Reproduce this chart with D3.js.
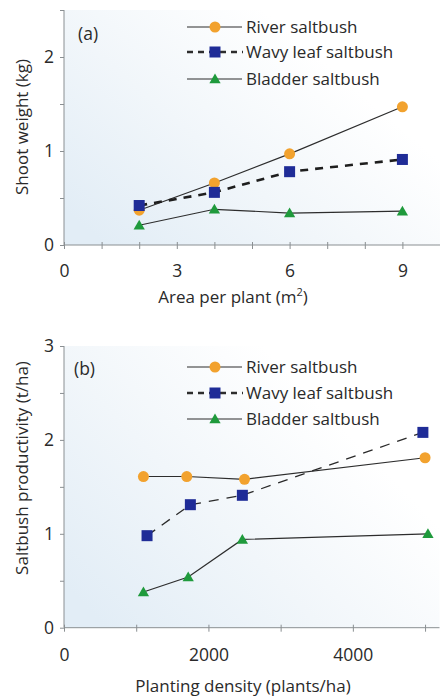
<!DOCTYPE html>
<html><head><meta charset="utf-8">
<script src="https://cdn.jsdelivr.net/npm/d3@7"></script>
<style>body{margin:0;background:#fff}svg{display:block}text{font-family:"Open Sans",sans-serif;fill:#2a2a2a}</style>
</head><body><svg id="c" width="440" height="697"></svg>
<script>
// Panel (a): shoot weight vs area per plant
const seriesNames = ["River saltbush", "Wavy leaf saltbush", "Bladder saltbush"];
const areaX = [2, 4, 6, 9];
const riverA = [0.37, 0.66, 0.97, 1.47];
const wavyA = [0.42, 0.56, 0.78, 0.91];
const bladderA = [0.21, 0.38, 0.34, 0.36];
const xTicksA = [0, 3, 6, 9];
const yTicksA = [0, 1, 2];
// Panel (b): productivity vs planting density
const riverBX = [1100, 1700, 2500, 5000];
const riverB = [1.61, 1.61, 1.58, 1.81];
const wavyBX = [1150, 1750, 2470, 4970];
const wavyB = [0.98, 1.31, 1.41, 2.08];
const bladderBX = [1100, 1720, 2470, 5040];
const bladderB = [0.38, 0.54, 0.94, 1.0];
const xTicksB = [0, 2000, 4000];
const yTicksB = [0, 1, 2, 3];

const svg = d3.select("#c");
const defs = svg.append("defs");
const colors = {orange: "#f2a22e", blue: "#1f2c97", green: "#1f9a3c", line: "#2d2d2d", axis: "#8a8f92"};

function gradient(id) {
  const g = defs.append("linearGradient").attr("id", id)
    .attr("x1", "0").attr("y1", "0.85").attr("x2", "0.75").attr("y2", "0.3");
  g.append("stop").attr("offset", "0").attr("stop-color", "#e2edf6");
  g.append("stop").attr("offset", "0.5").attr("stop-color", "#f1f6fa");
  g.append("stop").attr("offset", "1").attr("stop-color", "#ffffff");
}
gradient("bgA"); gradient("bgB");

function marker(g, type, x, y) {
  if (type === "circle") g.append("circle").attr("cx", x).attr("cy", y).attr("r", 5.5).attr("fill", colors.orange);
  else if (type === "square") g.append("rect").attr("x", x - 5.5).attr("y", y - 5.5).attr("width", 11).attr("height", 11).attr("fill", colors.blue);
  else g.append("path").attr("d", d3.symbol(d3.symbolTriangle, 55)()).attr("transform", `translate(${x},${y+1})`).attr("fill", colors.green);
}

function panel(opts) {
  const {x, y, bg, xTicks, yTicks, xMinor, yMinor, series, label, labelPos, xTitle, xTitlePos, yTitle, yTitlePos, legendRowsY, xLabY} = opts;
  const g = svg.append("g");
  g.append("rect").attr("x", x.range()[0]).attr("y", y.range()[1])
    .attr("width", x.range()[1] - x.range()[0]).attr("height", y.range()[0] - y.range()[1]).attr("fill", `url(#${bg})`);
  // y axis
  const yAx = g.append("g").attr("transform", `translate(${x.range()[0]},0)`)
    .call(d3.axisLeft(y).tickValues(yMinor).tickSize(4).tickFormat(d => yTicks.includes(d) ? d : ""));
  yAx.select(".domain").attr("stroke", colors.axis).attr("d", `M0,${y.range()[0]}V${y.range()[1]}`);
  yAx.selectAll(".tick line").attr("stroke", colors.axis);
  yAx.selectAll(".tick text").attr("font-size", 17.5).attr("x", -10).attr("fill", "#2a2a2a");
  // x axis
  const xAx = g.append("g").attr("transform", `translate(0,${y.range()[0]})`)
    .call(d3.axisBottom(x).tickValues(xMinor).tickSize(0).tickFormat(d => xTicks.includes(d) ? d : ""));
  xAx.select(".domain").attr("stroke", colors.axis).attr("d", `M${x.range()[0]},0H${x.range()[1]}`);
  xAx.selectAll(".tick line").attr("stroke", colors.axis).attr("y1", -3).attr("y2", 4);
  xAx.selectAll(".tick text").attr("font-size", 17.5).attr("y", xLabY).attr("dy", 0).attr("fill", "#2a2a2a");
  xAx.selectAll("text").style("font-family", '"Open Sans",sans-serif');
  yAx.selectAll("text").style("font-family", '"Open Sans",sans-serif');
  // series
  series.forEach(s => {
    const line = d3.line().x((d, i) => x(s.xs[i])).y(d => y(d));
    g.append("path").datum(s.ys).attr("d", line).attr("fill", "none")
      .attr("stroke", s.stroke).attr("stroke-width", s.width).attr("stroke-dasharray", s.dash || null);
    s.ys.forEach((v, i) => marker(g, s.type, x(s.xs[i]), y(v)));
  });
  // legend
  series.forEach((s, i) => {
    const ly = legendRowsY[i];
    if (s.type === "square") {
      g.append("path").attr("d", `M187,${ly}H243`).attr("stroke", colors.line).attr("stroke-width", 2.6).attr("stroke-dasharray", "6,5,6,5,6,5,6,5,6,5,6,5");
    } else {
      g.append("path").attr("d", `M187,${ly}H242`).attr("stroke", colors.line).attr("stroke-width", 1.2);
    }
    marker(g, s.type, 215, ly);
    g.append("text").attr("x", 246).attr("y", ly + 6).attr("font-size", 17).text(seriesNames[i]);
  });
  g.append("text").attr("x", labelPos[0]).attr("y", labelPos[1]).attr("font-size", 17.5).text(label);
  g.append("text").attr("x", xTitlePos[0]).attr("y", xTitlePos[1]).attr("text-anchor", "middle").attr("font-size", 17).html(xTitle);
  g.append("text").attr("transform", `translate(${yTitlePos[0]},${yTitlePos[1]}) rotate(-90)`).attr("text-anchor", "middle").attr("font-size", 17).text(yTitle);
}

const xA = d3.scaleLinear().domain([0, 10]).range([64, 440]);
const yA = d3.scaleLinear().domain([0, 2.5]).range([245, 10]);
panel({
  x: xA, y: yA, bg: "bgA", xTicks: xTicksA, yTicks: yTicksA,
  xMinor: d3.range(0, 10, 1), yMinor: d3.range(0, 2.51, 0.5),
  series: [
    {xs: areaX, ys: riverA, type: "circle", stroke: colors.line, width: 1.2},
    {xs: areaX, ys: wavyA, type: "square", stroke: "#1e1e1e", width: 2.6, dash: "8,7"},
    {xs: areaX, ys: bladderA, type: "triangle", stroke: colors.line, width: 1.2}
  ],
  label: "(a)", labelPos: [78, 40],
  xTitle: 'Area per plant (m<tspan baseline-shift="super" font-size="11">2</tspan>)', xTitlePos: [233, 303],
  yTitle: "Shoot weight (kg)", yTitlePos: [28, 127],
  legendRowsY: [27, 52, 79], xLabY: 32
});

const xB = d3.scaleLinear().domain([0, 5200]).range([64, 439.5]);
const yB = d3.scaleLinear().domain([0, 3]).range([627.7, 346]);
panel({
  x: xB, y: yB, bg: "bgB", xTicks: xTicksB, yTicks: yTicksB,
  xMinor: d3.range(0, 5001, 1000), yMinor: d3.range(0, 3.01, 0.5),
  series: [
    {xs: riverBX, ys: riverB, type: "circle", stroke: colors.line, width: 1.2},
    {xs: wavyBX, ys: wavyB, type: "square", stroke: "#2a2a2a", width: 1.3, dash: "10,8"},
    {xs: bladderBX, ys: bladderB, type: "triangle", stroke: colors.line, width: 1.2}
  ],
  label: "(b)", labelPos: [74, 375],
  xTitle: "Planting density (plants/ha)", xTitlePos: [243, 692],
  yTitle: "Saltbush productivity (t/ha)", yTitlePos: [28, 468],
  legendRowsY: [367, 393, 419], xLabY: 33
});
</script></body></html>
